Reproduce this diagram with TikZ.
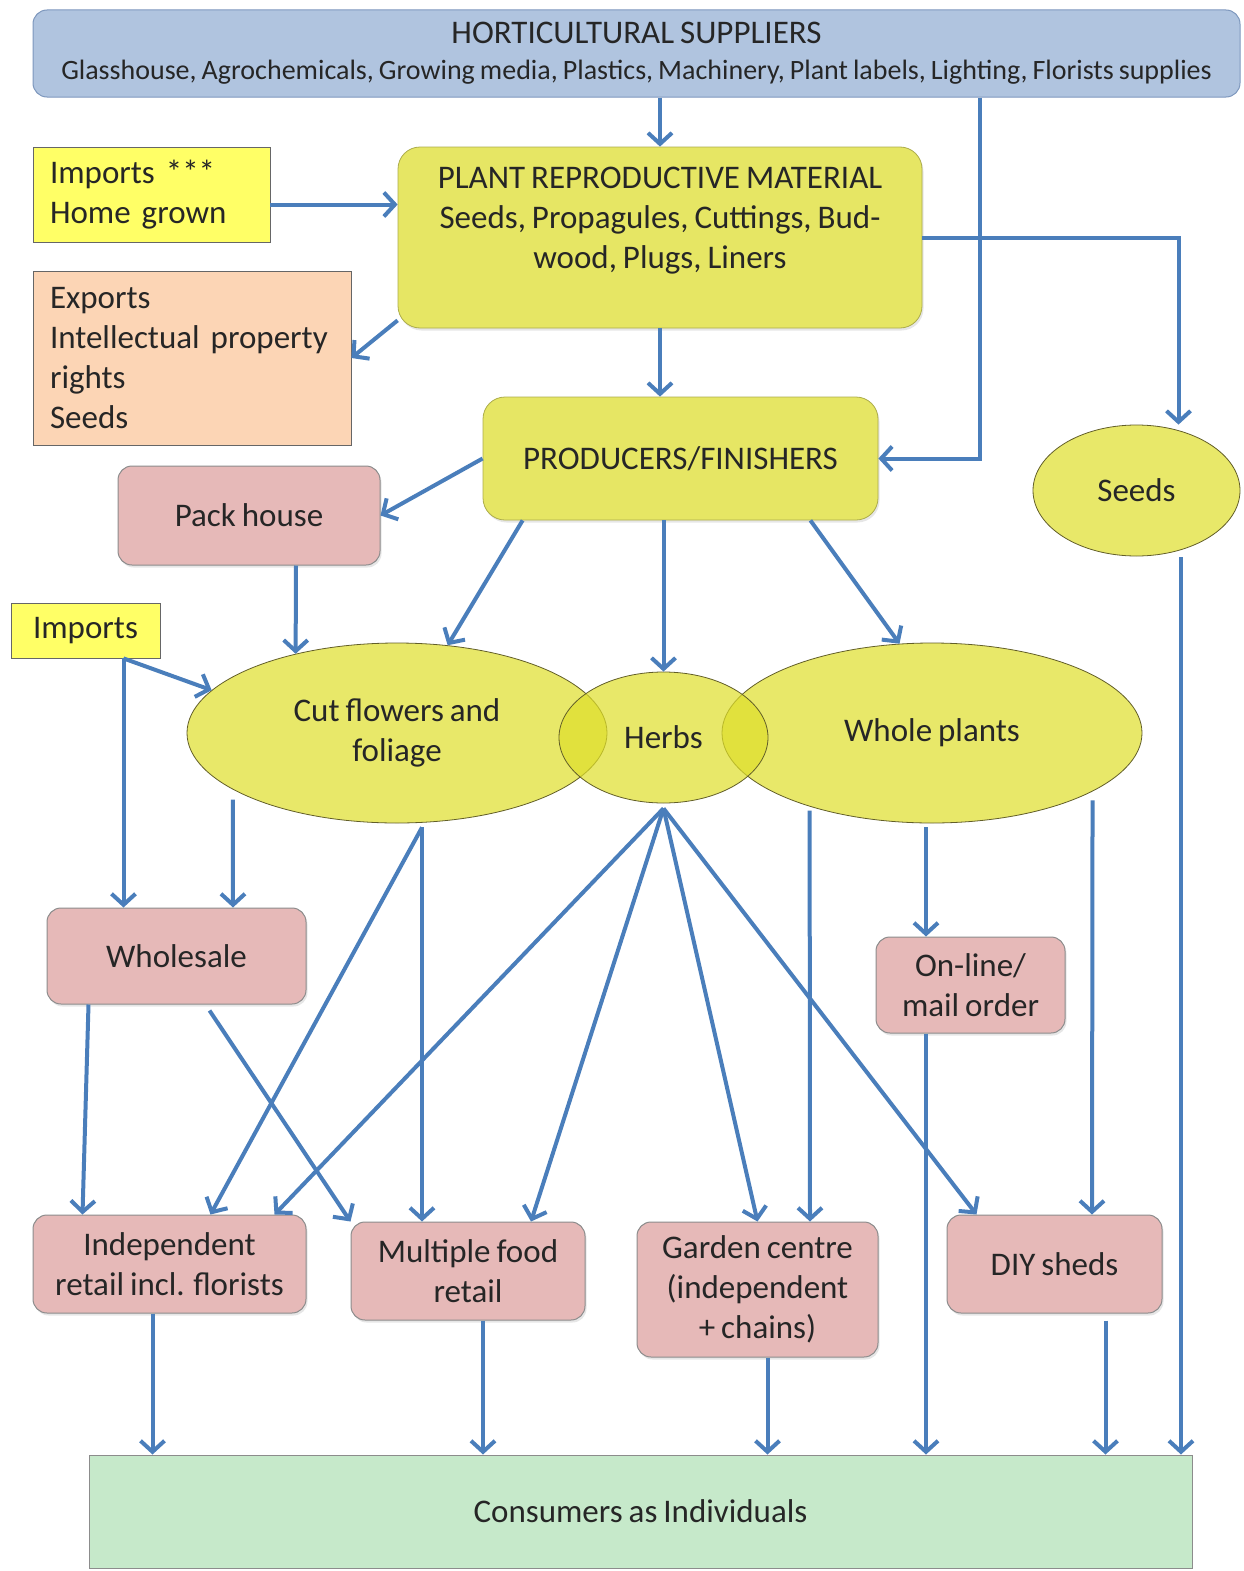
\documentclass[tikz,border=0pt]{standalone}
\usepackage{fontspec}
\setmainfont{Carlito}[WordSpace=0.8]
\usepackage{xcolor}
\usetikzlibrary{shapes.geometric,arrows.meta,shadows}

\definecolor{flowblue}{HTML}{4A7EBB}
\definecolor{supblue}{HTML}{B0C4DF}
\definecolor{supline}{HTML}{7D97BD}
\definecolor{boxyellow}{HTML}{E6E664}
\definecolor{ovalyellow}{RGB}{222,222,42}
\definecolor{noteyellow}{HTML}{FFFF66}
\definecolor{peach}{HTML}{FCD5B5}
\definecolor{rosepink}{HTML}{E6B9B8}
\definecolor{mint}{HTML}{C6E9CA}

\begin{document}
\begin{tikzpicture}[x=1pt,y=-1pt,>={Straight Barb[length=11pt,width=24pt]},
    every node/.style={font=\fontsize{33}{40}\selectfont,text=black!85},
    sup box/.style={draw=supline,fill=supblue,line width=1pt,rounded corners=14pt,inner sep=0pt,align=center},
    stage box/.style={draw=boxyellow!75!black,fill=boxyellow,line width=0.8pt,rounded corners=22pt,inner sep=0pt,align=center,
        drop shadow={shadow xshift=1.5pt,shadow yshift=-2.5pt,opacity=0.2}},
    outlet box/.style={draw=black!45,fill=rosepink,line width=1pt,rounded corners=14pt,inner sep=0pt,align=center,
        drop shadow={shadow xshift=1.5pt,shadow yshift=-2.5pt,opacity=0.2}},
    note box/.style={draw=black!60,line width=0.8pt,inner sep=0pt},
    crop oval/.style={ellipse,draw=olive!60!black,line width=0.8pt,fill=ovalyellow,fill opacity=0.7,text opacity=1,inner sep=0pt,align=center},
    flow/.style={->,draw=flowblue,line width=4pt}]

    % supply side
    \node[sup box,minimum width=1207pt,minimum height=87pt] (suppliers) at (636.5,53.5)
        {HORTICULTURAL SUPPLIERS\\[-4pt]{\fontsize{28}{34}\selectfont Glasshouse, Agrochemicals, Growing media, Plastics, Machinery, Plant labels, Lighting, Florists supplies}};
    \node[stage box,minimum width=524pt,minimum height=181pt] (prm) at (660,237.5)
        {PLANT REPRODUCTIVE MATERIAL\\Seeds, Propagules, Cuttings, Bud-\\wood, Plugs, Liners\\~};
    \node[note box,fill=noteyellow,minimum width=237pt,minimum height=95pt,text width=203pt,align=left] (impA) at (151.5,194.5)
        {Imports ***\\Home grown};
    \node[note box,fill=peach,minimum width=318pt,minimum height=174pt,text width=284pt,align=left] (exports) at (192,358)
        {Exports\\Intellectual property\\rights\\Seeds};
    \node[stage box,minimum width=395pt,minimum height=123pt] (producers) at (680.5,458.5) {PRODUCERS/FINISHERS};
    \node[crop oval,minimum width=207pt,minimum height=131pt] (seeds) at (1136.5,490.5) {Seeds};
    \node[outlet box,minimum width=262pt,minimum height=99pt] (pack) at (249,515.5) {Pack house};
    \node[note box,fill=noteyellow,minimum width=149pt,minimum height=55pt] (impB) at (85.5,630.5) {Imports};

    % crops
    \node[crop oval,minimum width=420pt,minimum height=180pt] (cut) at (397,733) {Cut flowers and\\foliage};
    \node[crop oval,minimum width=420pt,minimum height=180pt] (whole) at (932,733) {Whole plants};
    \node[crop oval,minimum width=209pt,minimum height=131pt] (herbs) at (663.5,737.5) {Herbs};

    % outlets
    \node[outlet box,minimum width=259pt,minimum height=96pt] (wholesale) at (176.5,956) {Wholesale};
    \node[outlet box,minimum width=189pt,minimum height=96pt] (online) at (970.5,985) {On-line/\\mail order};
    \node[outlet box,minimum width=273pt,minimum height=98pt] (indep) at (169.5,1264) {Independent\\retail incl. florists};
    \node[outlet box,minimum width=234pt,minimum height=98pt] (multi) at (468,1271) {Multiple food\\retail};
    \node[outlet box,minimum width=241pt,minimum height=135pt] (garden) at (757.5,1289.5) {Garden centre\\(independent\\+ chains)};
    \node[outlet box,minimum width=215pt,minimum height=98pt] (diy) at (1054.5,1264) {DIY sheds};
    \node[draw=black!45,fill=mint,line width=1pt,minimum width=1103pt,minimum height=113pt] (consumers) at (640.5,1511.5)
        {Consumers as Individuals};

    \draw[flow] ([xshift=343.5pt]suppliers.south) |- (producers.east);
    \draw[flow] (prm.east) -| ([xshift=42pt]seeds.north);

    \path[every edge/.style={flow}]
        ([xshift=23.5pt]suppliers.south) edge (prm.north)
        ([yshift=-10pt]impA.east) edge ([yshift=33pt]prm.west)
        ([yshift=8pt]prm.south west) edge (exports.east)
        (prm.south) edge ([xshift=-20.5pt]producers.north)
        (producers.west) edge (pack.east)
        ([xshift=40pt]producers.south west) edge (cut.60)
        ([xshift=-17pt]producers.south) edge (herbs.north)
        ([xshift=-68pt]producers.south east) edge (whole.110)
        ([xshift=47pt]pack.south) edge (cut.142)
        ([xshift=38pt]impB.south) edge (cut.167)
        ([xshift=38pt]impB.south) edge ([xshift=-53pt]wholesale.north)
        ([yshift=-10pt]cut.199) edge ([xshift=56.5pt]wholesale.north)
        ([xshift=25pt,yshift=-4pt]cut.south) edge ([xshift=41pt]indep.north)
        ([xshift=25pt,yshift=-4pt]cut.south) edge ([xshift=-46pt]multi.north)
        ([yshift=-5pt]herbs.south) edge ([xshift=105pt]indep.north)
        ([yshift=-5pt]herbs.south) edge ([xshift=63pt]multi.north)
        ([yshift=-5pt]herbs.south) edge (garden.north)
        ([yshift=-5pt]herbs.south) edge ([xshift=-78pt]diy.north)
        ([yshift=-4pt]whole.211) edge ([xshift=52.5pt]garden.north)
        ([xshift=-6pt,yshift=-4pt]whole.south) edge ([xshift=-44.5pt]online.north)
        ([yshift=-9pt]whole.340) edge ([xshift=37.5pt]diy.north)
        ([xshift=-88pt]wholesale.south) edge ([xshift=-87pt]indep.north)
        ([xshift=33pt,yshift=-6pt]wholesale.south) edge (multi.north west)
        ([xshift=-17pt]indep.south) edge ([xshift=-488pt]consumers.north)
        ([xshift=15pt]multi.south) edge ([xshift=-157.5pt]consumers.north)
        ([xshift=10pt]garden.south) edge ([xshift=127pt]consumers.north)
        ([xshift=-44.5pt]online.south) edge ([xshift=285.5pt]consumers.north)
        ([xshift=51pt,yshift=-7pt]diy.south) edge ([xshift=465pt]consumers.north)
        ([xshift=44.5pt,yshift=-1pt]seeds.south) edge ([xshift=540.5pt]consumers.north)
        ;

    \useasboundingbox (0,0) rectangle (1244,1571);
\end{tikzpicture}
\end{document}
